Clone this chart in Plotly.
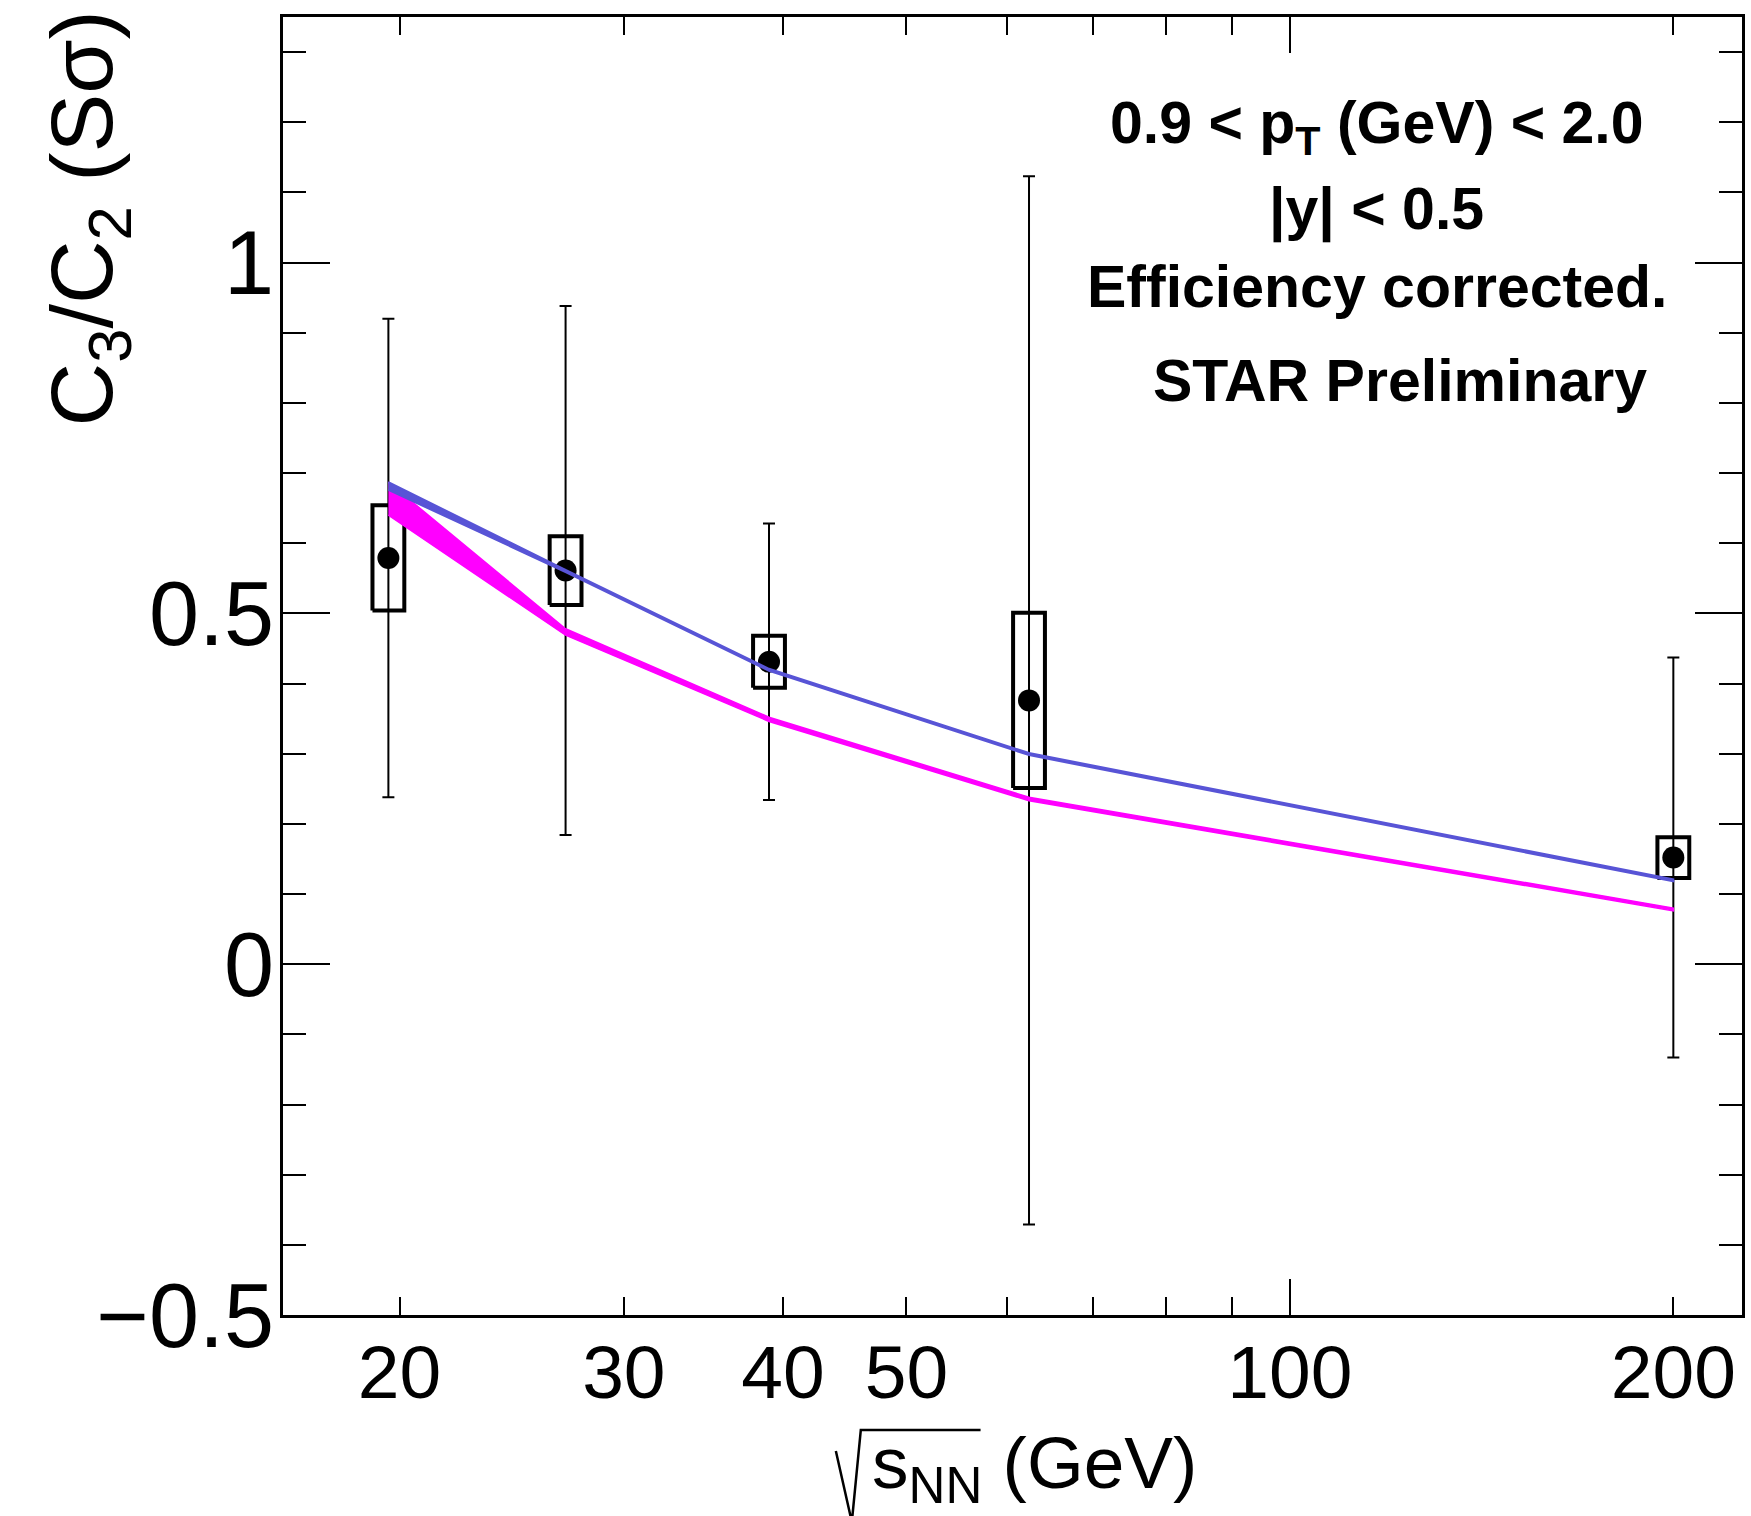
import plotly.graph_objects as go

# ---------------- data ----------------
energy = [19.6, 27, 39, 62.4, 200]
c3c2 = [0.579, 0.561, 0.431, 0.376, 0.152]
stat_err = [0.341, 0.377, 0.197, 0.747, 0.285]
sys_err = [0.075, 0.049, 0.037, 0.125, 0.029]

model_energy = [19.6, 27, 39, 62.4, 200]
blue_hi = [0.687, 0.562, 0.421, 0.301, 0.121]
blue_lo = [0.676, 0.559, 0.418, 0.298, 0.118]
mag_hi = [0.687, 0.478, 0.352, 0.238, 0.080]
mag_lo = [0.640, 0.469, 0.346, 0.233, 0.076]

x_label_vals = [20, 30, 40, 50, 100, 200]
x_label_text = ["20", "30", "40", "50", "100", "200"]
x_minor_vals = [60, 70, 80, 90]
x_major_vals = [100]

FONT = "Liberation Sans, Arial, Helvetica, sans-serif"
BLUE = "rgb(88,84,214)"
MAG = "rgb(255,0,255)"

W, H = 1751, 1516
ML, MR, MT, MB = 283, 6, 17, 201

# systematic boxes (half-width in log10 units)
HW = 0.0125
bx, by = [], []
for e, c, s in zip(energy, c3c2, sys_err):
    xl, xr = e * 10 ** (-HW), e * 10 ** HW
    bx += [xl, xr, xr, xl, xl, None]
    by += [c - s, c - s, c + s, c + s, c - s, None]

fig = go.Figure()

fig.add_trace(go.Scatter(x=bx, y=by, mode="lines",
                         line=dict(color="black", width=4),
                         showlegend=False, hoverinfo="skip"))

fig.add_trace(go.Scatter(x=energy, y=c3c2, mode="markers",
                         marker=dict(color="black", size=22),
                         error_y=dict(type="data", array=stat_err, visible=True,
                                      color="black", thickness=2, width=6),
                         showlegend=False))

# model bands (on overlay axes, drawn above data)
fig.add_trace(go.Scatter(x=model_energy + model_energy[::-1],
                         y=mag_hi + mag_lo[::-1], mode="lines",
                         fill="toself", fillcolor=MAG,
                         line=dict(color=MAG, width=1.5),
                         xaxis="x2", showlegend=False))
fig.add_trace(go.Scatter(x=model_energy + model_energy[::-1],
                         y=blue_hi + blue_lo[::-1], mode="lines",
                         fill="toself", fillcolor=BLUE,
                         line=dict(color=BLUE, width=2),
                         xaxis="x3", showlegend=False))

xrange = [1.20952, 2.35493]
common_x = dict(type="log", range=xrange, showgrid=False, zeroline=False,
                ticks="inside", tickwidth=2, tickcolor="black",
                showline=True, linewidth=3, linecolor="black", mirror="ticks")

fig.update_layout(
    width=W, height=H,
    margin=dict(l=ML, r=MR, t=MT, b=MB, pad=0),
    paper_bgcolor="white", plot_bgcolor="white",
    font=dict(family=FONT, color="black"),
    xaxis=dict(**common_x, tickmode="array", tickvals=x_label_vals,
               ticktext=x_label_text, ticklen=18,
               tickfont=dict(family=FONT, size=75), ticklabelstandoff=-10),
    xaxis2=dict(**common_x, overlaying="x", anchor="y", side="bottom",
                tickmode="array", tickvals=x_minor_vals, ticklen=18,
                showticklabels=False),
    xaxis3=dict(**common_x, overlaying="x", anchor="y", side="bottom",
                tickmode="array", tickvals=x_major_vals, ticklen=36,
                showticklabels=False),
    yaxis=dict(range=[-0.5, 1.35], showgrid=False, zeroline=False,
               tickmode="linear", tick0=0, dtick=0.5,
               ticks="inside", ticklen=47, tickwidth=2, tickcolor="black",
               minor=dict(dtick=0.1, tick0=0, ticks="inside", ticklen=23,
                          tickwidth=2, tickcolor="black", showgrid=False),
               showline=True, linewidth=3, linecolor="black", mirror="ticks",
               tickfont=dict(family=FONT, size=90), ticklabelstandoff=-12),
)


def px_x(px):
    return (px - ML) / (W - ML - MR)


def px_y(py):
    return (H - MB - py) / (H - MT - MB)


ann_font = dict(family=FONT, size=59, color="black")
texts = [
    ("<b>0.9 &lt; p<sub>T</sub> (GeV) &lt; 2.0</b>", 1379, 127),
    ("<b>|y| &lt; 0.5</b>", 1379, 210),
    ("<b>Efficiency corrected.</b>", 1379, 287),
    ("<b>STAR Preliminary</b>", 1402, 381),
]
for t, x, y in texts:
    fig.add_annotation(text=t, x=px_x(x), y=px_y(y), xref="paper", yref="paper",
                       xanchor="center", yanchor="middle", showarrow=False,
                       font=ann_font)

# y title
fig.add_annotation(text="C<sub>3</sub>/C<sub>2</sub> (Sσ)", textangle=-90,
                   x=px_x(88), y=px_y(218), xref="paper", yref="paper",
                   xanchor="center", yanchor="middle", showarrow=False,
                   font=dict(family=FONT, size=88, color="black"))

# x title: radical drawn as a path, text after it
fig.add_annotation(text="s<sub>NN</sub> (GeV)",
                   x=px_x(871), y=px_y(1468), xref="paper", yref="paper",
                   xanchor="left", yanchor="middle", showarrow=False,
                   font=dict(family=FONT, size=73, color="black"))
rad = [(837, 1451), (853, 1522), (862, 1430), (982, 1430)]
path = "M " + " L ".join(f"{px_x(a):.5f},{px_y(b):.5f}" for a, b in rad)
fig.add_shape(type="path", xref="paper", yref="paper", path=path,
              line=dict(color="black", width=2.5))

fig.write_html("out.html")
